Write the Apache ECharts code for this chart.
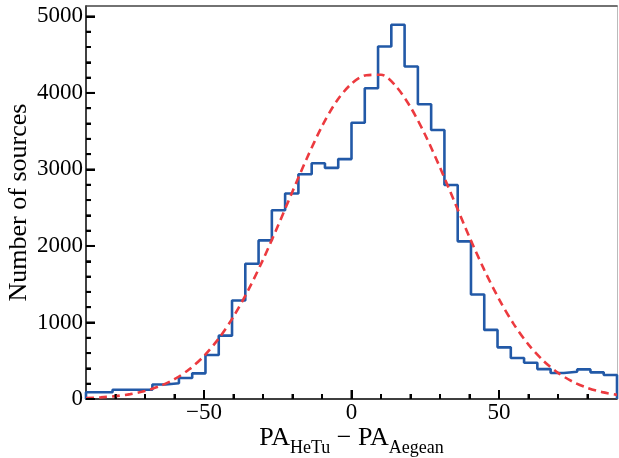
<!DOCTYPE html>
<html>
<head>
<meta charset="utf-8">
<script src="https://cdn.jsdelivr.net/npm/echarts@6/dist/echarts.min.js"></script>
<style>
html,body{margin:0;padding:0;background:#fff;}
#c{width:619px;height:458px;}
</style>
</head>
<body>
<div id="c"></div>
<script>
// Histogram bin edges (41) and counts (40)
const binEdges = [-90,-85.5,-81,-76.5,-72,-67.5,-63,-58.5,-54,-49.5,-45,-40.5,-36,-31.5,-27,-22.5,-18,-13.5,-9,-4.5,0,4.5,9,13.5,18,22.5,27,31.5,36,40.5,45,49.5,54,58.5,63,67.5,72,76.5,81,85.5,90];
const counts = [88,88,120,120,120,190,205,274,335,575,828,1287,1768,2073,2467,2685,2938,3080,3020,3135,3611,4061,4607,4891,4345,3852,3515,2796,2060,1366,903,675,536,474,391,339,356,387,348,313];
// Dashed fit curve
const fitX = [-90,-85,-80,-75,-70,-65,-60,-55,-50,-45,-40,-35,-30,-25,-20,-15,-10,-5,0,5,10,15,20,25,30,35,40,45,50,55,60,65,70,75,80,85,90];
const fitY = [12,21,38,64,105,168,259,388,562,791,1077,1423,1820,2257,2712,3157,3563,3895,4120,4232,4238,4090,3815,3450,3025,2570,2114,1688,1306,979,711,501,342,226,145,90,54];
const xMajor = [-50,0,50];
const xMinor = [-80,-70,-60,-40,-30,-20,-10,10,20,30,40,60,70,80];
const yMajor = [0,1000,2000,3000,4000,5000];
const yMinor = [200,400,600,800,1200,1400,1600,1800,2200,2400,2600,2800,3200,3400,3600,3800,4200,4400,4600,4800];
const xTitle = '{a|PA}{b|HeTu}{a| \u2212 PA}{b|Aegean}';
const yTitle = 'Number of sources';
const X_MIN = -90, X_MAX = 90, Y_MIN = 0, Y_MAX = 5136;

const FONT = 'Liberation Serif';
const histData = [[binEdges[0], 0]];
for (let i = 0; i < counts.length; i++) histData.push([binEdges[i], counts[i]]);
histData.push([binEdges[binEdges.length-1], counts[counts.length-1]]);
histData.push([binEdges[binEdges.length-1], 0]);
const fitData = fitX.map((x, i) => [x, fitY[i]]);

// tick marks: [value, axis (0 = x, 1 = y), major flag]
const tickData = []
  .concat(xMajor.map(v => [v, 0, 1]), xMinor.map(v => [v, 0, 0]))
  .concat(yMajor.map(v => [v, 1, 1]), yMinor.map(v => [v, 1, 0]));

const G = {left: 86, right: 2, top: 6, bottom: 59};
const W = 619, H = 458;
const MAJ_LEN = 9, MIN_LEN = 5;

const chart = echarts.init(document.getElementById('c'));
const baseX = {type: 'value', min: X_MIN, max: X_MAX, splitLine: {show: false}, gridIndex: 0};
const baseY = {type: 'value', min: Y_MIN, max: Y_MAX, splitLine: {show: false}, gridIndex: 0};
chart.setOption({
  animation: false,
  backgroundColor: '#fff',
  grid: {left: G.left, right: G.right, top: G.top, bottom: G.bottom, containLabel: false, outerBoundsMode: 'none'},
  xAxis: [
    Object.assign({}, baseX, {
      position: 'bottom',
      axisLine: {show: true, onZero: false, lineStyle: {color: '#000', width: 1.5}},
      axisTick: {show: true, inside: true, length: MAJ_LEN, lineStyle: {color: '#000', width: 2}, customValues: xMajor},
      axisLabel: {show: true, customValues: xMajor, margin: 2, color: '#000', fontFamily: FONT, fontSize: 23,
        formatter: v => (v < 0 ? '\u2212' + Math.abs(v) : String(v))}
    }),
    Object.assign({}, baseX, {
      position: 'bottom',
      axisLine: {show: false, onZero: false},
      axisTick: {show: true, inside: true, length: MIN_LEN, lineStyle: {color: '#000', width: 2}, customValues: xMinor},
      axisLabel: {show: false}
    }),
    Object.assign({}, baseX, {
      position: 'top',
      axisLine: {show: true, onZero: false, lineStyle: {color: '#444', width: 1.5}},
      axisTick: {show: false}, axisLabel: {show: false}
    })
  ],
  yAxis: [
    Object.assign({}, baseY, {
      position: 'left',
      axisLine: {show: true, onZero: false, lineStyle: {color: '#000', width: 1.5}},
      axisTick: {show: true, inside: true, length: MAJ_LEN, lineStyle: {color: '#000', width: 2}, customValues: yMajor},
      axisLabel: {show: true, customValues: yMajor, margin: 3, color: '#000', fontFamily: FONT, fontSize: 23,
        formatter: v => String(v)}
    }),
    Object.assign({}, baseY, {
      position: 'left',
      axisLine: {show: false, onZero: false},
      axisTick: {show: true, inside: true, length: MIN_LEN, lineStyle: {color: '#000', width: 2}, customValues: yMinor},
      axisLabel: {show: false}
    }),
    Object.assign({}, baseY, {
      position: 'right',
      axisLine: {show: true, onZero: false, lineStyle: {color: '#bbb', width: 1}},
      axisTick: {show: false}, axisLabel: {show: false}
    })
  ],
  graphic: [
    {
      type: 'text', x: (G.left + W - G.right) / 2, y: H - G.bottom + 26, silent: true,
      style: {
        text: xTitle, fill: '#000', font: '26px "Liberation Serif"',
        align: 'center', verticalAlign: 'top', textAlign: 'center', textVerticalAlign: 'top',
        rich: {
          a: {fontFamily: FONT, fontSize: 26, fill: '#000', lineHeight: 32, verticalAlign: 'top'},
          b: {fontFamily: FONT, fontSize: 18, fill: '#000', lineHeight: 32, verticalAlign: 'bottom'}
        }
      }
    },
    {
      type: 'text', x: 19, y: (G.top + H - G.bottom) / 2, rotation: Math.PI / 2, silent: true,
      style: {
        text: yTitle, fill: '#000', font: '26px "Liberation Serif"',
        align: 'center', verticalAlign: 'middle', textAlign: 'center', textVerticalAlign: 'middle'
      }
    }
  ],
  series: [
    {
      type: 'line', xAxisIndex: 0, yAxisIndex: 0, data: histData, step: 'end',
      showSymbol: false, symbol: 'none', clip: true,
      lineStyle: {color: '#2259a7', width: 2.6}
    },
    {
      type: 'line', xAxisIndex: 0, yAxisIndex: 0, data: fitData, smooth: 0.3,
      showSymbol: false, symbol: 'none', clip: true,
      lineStyle: {color: '#ec3a3f', width: 2.6, type: [8, 5]}
    },
    {
      // inward tick marks placed through the axes' own scales
      type: 'custom', xAxisIndex: 0, yAxisIndex: 0, data: tickData, clip: false, silent: true, z: 5,
      encode: {x: -1, y: -1},
      renderItem: function (params, api) {
        const v = api.value(0), isY = api.value(1) === 1, len = api.value(2) === 1 ? MAJ_LEN : MIN_LEN;
        if (isY) {
          const p = api.coord([X_MIN, v]);
          return {type: 'line', shape: {x1: p[0], y1: p[1], x2: p[0] + len, y2: p[1]},
            style: {stroke: '#000', lineWidth: 2}};
        }
        const p = api.coord([v, Y_MIN]);
        return {type: 'line', shape: {x1: p[0], y1: p[1], x2: p[0], y2: p[1] - len},
          style: {stroke: '#000', lineWidth: 2}};
      }
    }
  ]
});
</script>
</body>
</html>
